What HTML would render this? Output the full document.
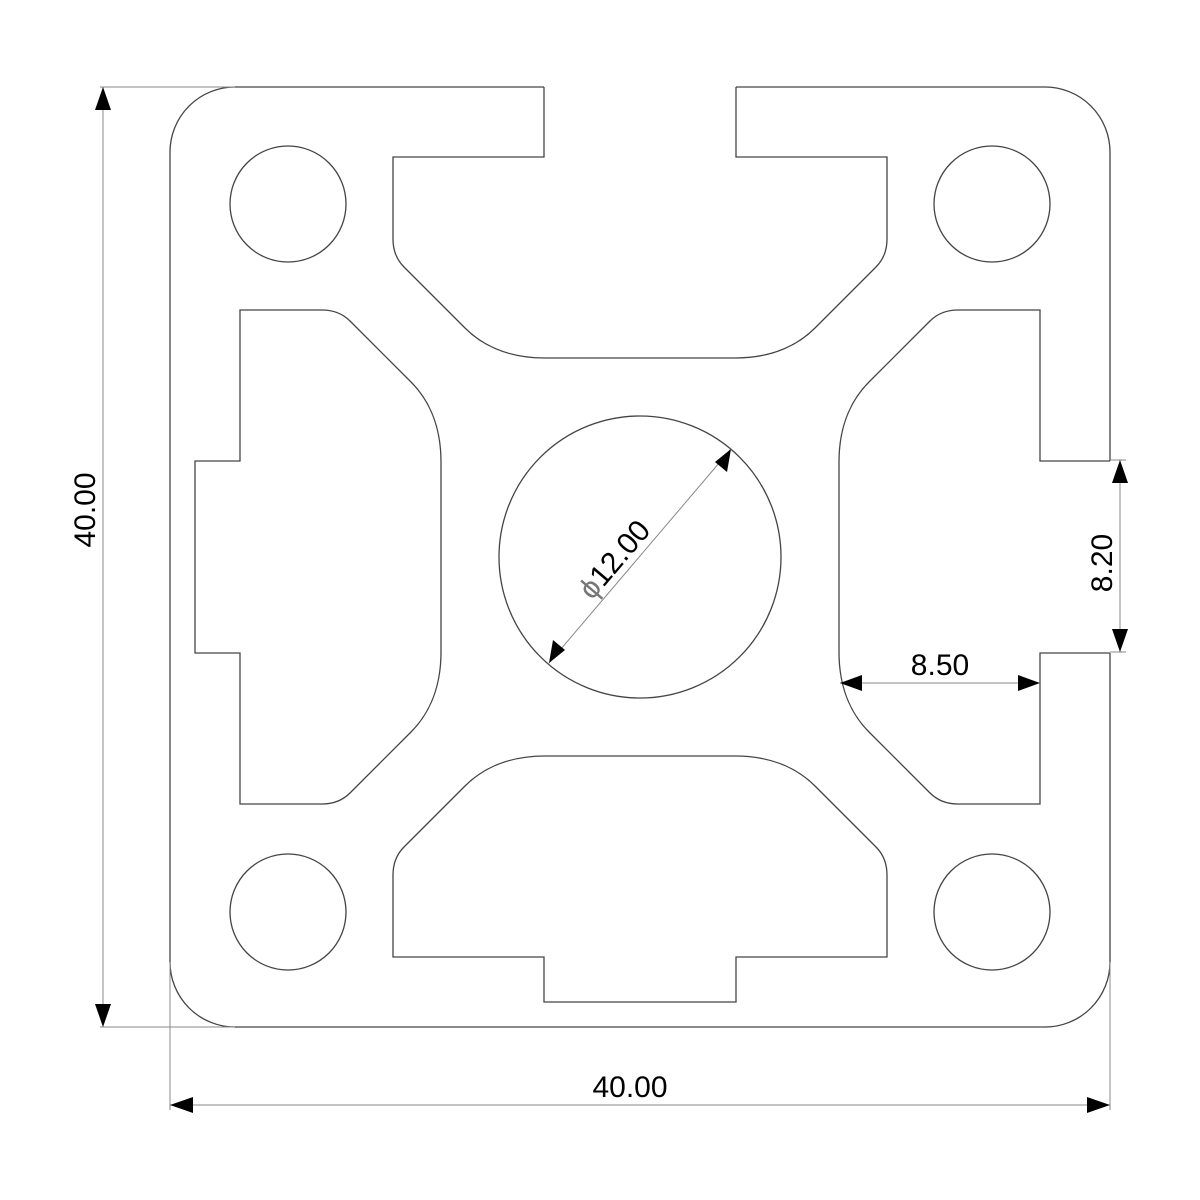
<!DOCTYPE html>
<html><head><meta charset="utf-8"><style>
html,body{margin:0;padding:0;background:#fff;}
svg{display:block}
text{font-family:"Liberation Sans",sans-serif;font-size:30px;fill:#000;}
</style></head><body>
<svg width="1200" height="1200" viewBox="0 0 1200 1200" xmlns="http://www.w3.org/2000/svg">
<defs>
<path id="slotOpen" d="M -96,-470 L -96,-400 L -247,-400 L -247,-318 Q -247,-301 -236,-290 L -175,-229 C -160,-214 -135,-199 -95,-199 L 95,-199 C 135,-199 160,-214 175,-229 L 236,-290 Q 247,-301 247,-318 L 247,-400 L 96,-400 L 96,-470"/>
<path id="slotClosed" d="M -96,-445 L -96,-400 L -247,-400 L -247,-318 Q -247,-301 -236,-290 L -175,-229 C -160,-214 -135,-199 -95,-199 L 95,-199 C 135,-199 160,-214 175,-229 L 236,-290 Q 247,-301 247,-318 L 247,-400 L 96,-400 L 96,-445 Z"/>
</defs>
<g fill="none" stroke="#444" stroke-width="1.3">
<path d="M 544,87 L 235,87 A 65,65 0 0 0 170,152 L 170,962 A 65,65 0 0 0 235,1027 L 1045,1027 A 65,65 0 0 0 1110,962 L 1110,653 M 1110,461 L 1110,152 A 65,65 0 0 0 1045,87 L 736,87"/>
<g transform="translate(640,557)">
<use href="#slotOpen"/>
<use href="#slotOpen" transform="rotate(90)"/>
<use href="#slotClosed" transform="rotate(180)"/>
<use href="#slotClosed" transform="rotate(270)"/>
</g>
<circle cx="288" cy="204" r="58"/>
<circle cx="992" cy="204" r="58"/>
<circle cx="288" cy="912" r="58"/>
<circle cx="992" cy="912" r="58"/>
<circle cx="640" cy="557" r="141"/>
</g>
<g stroke="#888" stroke-width="1" fill="none">
<line x1="100" y1="87" x2="235" y2="87"/>
<line x1="100" y1="1027" x2="235" y2="1027"/>
<line x1="103" y1="87" x2="103" y2="1027"/>
<line x1="170" y1="962" x2="170" y2="1110"/>
<line x1="1110" y1="962" x2="1110" y2="1110"/>
<line x1="170" y1="1105" x2="1110" y2="1105"/>
<line x1="1110" y1="460" x2="1126" y2="460"/>
<line x1="1110" y1="652" x2="1126" y2="652"/>
<line x1="1120" y1="460" x2="1120" y2="652"/>
<line x1="840" y1="683" x2="1040" y2="683"/>
<line x1="549" y1="663" x2="731" y2="449"/>
</g>
<g fill="#000">
<polygon points="103,87 95,110 111,110"/>
<polygon points="103,1027 95,1004 111,1004"/>
<polygon points="170,1105 193,1097 193,1113"/>
<polygon points="1110,1105 1087,1097 1087,1113"/>
<polygon points="1120,460 1112,483 1128,483"/>
<polygon points="1120,652 1112,629 1128,629"/>
<polygon points="840,683 862,675 862,691"/>
<polygon points="1040,683 1018,675 1018,691"/>
<polygon points="731,449 727,472 715,462"/>
<polygon points="549,663 553,640 565,650"/>
</g>
<text x="630" y="1097" text-anchor="middle">40.00</text>
<text x="940" y="675" text-anchor="middle">8.50</text>
<text transform="translate(95,510) rotate(-90)" text-anchor="middle">40.00</text>
<text transform="translate(1112,563) rotate(-90)" text-anchor="middle">8.20</text>
<text transform="translate(622,566) rotate(-49.6)" text-anchor="middle"><tspan fill="#777">ϕ</tspan>12.00</text>
</svg>
</body></html>
